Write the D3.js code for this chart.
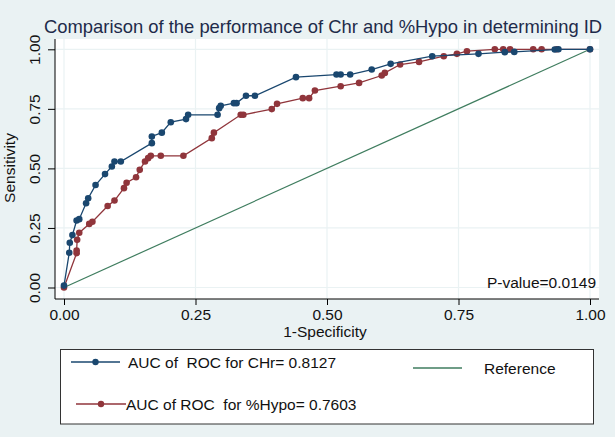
<!DOCTYPE html>
<html>
<head>
<meta charset="utf-8">
<script src="https://cdn.jsdelivr.net/npm/d3@7/dist/d3.min.js"></script>
<style>
  html, body { margin: 0; padding: 0; background: #eaf2f3; }
  svg text { font-family: "Liberation Sans", Arial, sans-serif; white-space: pre; }
</style>
</head>
<body>
<svg id="chart" width="615" height="437"></svg>
<script>
// ---- data ----
const titleText = "Comparison of the performance of Chr and %Hypo in determining ID";
const xTicks = [0, 0.25, 0.5, 0.75, 1];
const yTicks = [0, 0.25, 0.5, 0.75, 1];
const chrFpr = [0, 0.010, 0.011, 0.016, 0.024, 0.029, 0.042, 0.046, 0.060, 0.078, 0.091, 0.096, 0.108, 0.167, 0.167, 0.186, 0.203, 0.232, 0.236, 0.292, 0.295, 0.298, 0.323, 0.328, 0.346, 0.363, 0.441, 0.518, 0.526, 0.544, 0.585, 0.621, 0.700, 0.788, 0.838, 0.856, 0.933, 0.940, 1.0];
const chrTpr = [0.008, 0.146, 0.188, 0.220, 0.281, 0.287, 0.354, 0.375, 0.430, 0.476, 0.508, 0.529, 0.529, 0.606, 0.634, 0.650, 0.694, 0.707, 0.725, 0.725, 0.753, 0.763, 0.774, 0.774, 0.805, 0.805, 0.883, 0.894, 0.894, 0.894, 0.915, 0.939, 0.971, 0.981, 0.988, 0.989, 0.999, 1.0, 1.0];
const hypoFpr = [0, 0.024, 0.024, 0.025, 0.029, 0.048, 0.054, 0.083, 0.096, 0.114, 0.119, 0.137, 0.144, 0.154, 0.160, 0.165, 0.184, 0.227, 0.281, 0.285, 0.336, 0.341, 0.395, 0.405, 0.454, 0.466, 0.477, 0.526, 0.561, 0.604, 0.610, 0.639, 0.675, 0.722, 0.747, 0.766, 0.819, 0.835, 0.848, 0.892, 0.908, 0.937, 1.0];
const hypoTpr = [0, 0.144, 0.155, 0.200, 0.230, 0.267, 0.276, 0.342, 0.365, 0.417, 0.440, 0.463, 0.494, 0.529, 0.543, 0.553, 0.553, 0.553, 0.627, 0.650, 0.725, 0.725, 0.749, 0.771, 0.795, 0.795, 0.827, 0.845, 0.859, 0.890, 0.901, 0.936, 0.947, 0.971, 0.981, 0.992, 1, 1, 1, 1, 1, 1, 1];
const refX = [0, 1];
const refY = [0, 1];
const legendLabels = ["AUC of  ROC for CHr= 0.8127", "AUC of ROC  for %Hypo= 0.7603", "Reference"];
const pValueText = "P-value=0.0149";
const xTitle = "1-Specificity";
const yTitle = "Sensitivity";

// ---- styles ----
const navy = "#1a476f", maroon = "#90353b", green = "#3f7d5f";
const bg = "#eaf2f3";
const fs = 15.5;

const svg = d3.select("#chart");
svg.append("rect").attr("width", 615).attr("height", 437).attr("fill", bg);

const plot = {left: 55, right: 599, top: 39, bottom: 299};
const x = d3.scaleLinear().domain([0, 1]).range([64, 590]);
const y = d3.scaleLinear().domain([0, 1]).range([287.5, 49.3]);

svg.append("rect").attr("x", plot.left).attr("y", plot.top)
  .attr("width", plot.right - plot.left).attr("height", plot.bottom - plot.top)
  .attr("fill", "#ffffff");

// grid
svg.append("g").selectAll("line").data(yTicks).join("line")
  .attr("x1", plot.left).attr("x2", plot.right)
  .attr("y1", d => y(d)).attr("y2", d => y(d))
  .attr("stroke", bg).attr("stroke-width", 1.2);
svg.append("g").selectAll("line").data(xTicks).join("line")
  .attr("y1", plot.top).attr("y2", plot.bottom)
  .attr("x1", d => x(d)).attr("x2", d => x(d))
  .attr("stroke", bg).attr("stroke-width", 1.2);

// axes
const xAxis = d3.axisBottom(x).tickValues(xTicks).tickFormat(d3.format(".2f")).tickSize(6).tickSizeOuter(0).tickPadding(4);
const gx = svg.append("g").attr("transform", `translate(0,${plot.bottom})`).call(xAxis);
gx.select(".domain").remove();
gx.selectAll("line").attr("stroke", "#000");
gx.selectAll("text").attr("font-size", fs).attr("fill", "#111").attr("font-family", "Liberation Sans, Arial, sans-serif");

const yAxis = d3.axisLeft(y).tickValues(yTicks).tickFormat(d3.format(".2f")).tickSize(7).tickSizeOuter(0);
const gy = svg.append("g").attr("transform", `translate(${plot.left},0)`).call(yAxis);
gy.select(".domain").remove();
gy.selectAll("line").attr("stroke", "#000");
gy.selectAll("text")
  .attr("font-size", fs).attr("fill", "#111").attr("font-family", "Liberation Sans, Arial, sans-serif")
  .attr("text-anchor", "middle").attr("dy", null)
  .attr("x", 0).attr("y", 0)
  .attr("transform", d => `translate(${-15},0) rotate(-90)`);

// axis lines
svg.append("line").attr("x1", plot.left).attr("x2", plot.left).attr("y1", plot.top).attr("y2", plot.bottom).attr("stroke", "#000");
svg.append("line").attr("x1", plot.left).attr("x2", plot.right).attr("y1", plot.bottom).attr("y2", plot.bottom).attr("stroke", "#000");

// titles
svg.append("text").attr("x", 44).attr("y", 32.5).attr("font-size", 18.4).attr("fill", "#1e2b4a").text(titleText);
svg.append("text").attr("x", 325).attr("y", 337).attr("text-anchor", "middle").attr("font-size", fs).attr("fill", "#111").text(xTitle);
svg.append("text").attr("transform", "translate(15,168) rotate(-90)").attr("text-anchor", "middle").attr("font-size", fs).attr("fill", "#111").text(yTitle);

// reference line
const line = d3.line().x(d => x(d[0])).y(d => y(d[1]));
svg.append("path").datum(d3.zip(refX, refY)).attr("d", line).attr("fill", "none").attr("stroke", green).attr("stroke-width", 1.2);

function series(fx, ty, color) {
  const pts = d3.zip(fx, ty);
  svg.append("path").datum(pts).attr("d", line).attr("fill", "none").attr("stroke", color).attr("stroke-width", 1.3);
  svg.append("g").selectAll("circle").data(pts).join("circle")
    .attr("cx", d => x(d[0])).attr("cy", d => y(d[1])).attr("r", 3.3).attr("fill", color);
}
series(hypoFpr, hypoTpr, maroon);
series(chrFpr, chrTpr, navy);

// p-value
svg.append("text").attr("x", 596).attr("y", 288).attr("text-anchor", "end").attr("font-size", fs).attr("fill", "#111").text(pValueText);

// legend
svg.append("rect").attr("x", 60.5).attr("y", 349.5).attr("width", 533).attr("height", 74.5)
  .attr("fill", "#fff").attr("stroke", "#333").attr("stroke-width", 1);
const leg = [
  {x1: 71, x2: 120, y: 362, color: navy, dot: true, tx: 128, label: legendLabels[0]},
  {x1: 76, x2: 126, y: 404, color: maroon, dot: true, tx: 126, label: legendLabels[1]},
  {x1: 413, x2: 462, y: 368, color: green, dot: false, tx: 484, label: legendLabels[2]}
];
leg.forEach(l => {
  svg.append("line").attr("x1", l.x1).attr("x2", l.x2).attr("y1", l.y).attr("y2", l.y).attr("stroke", l.color).attr("stroke-width", 1.3);
  if (l.dot) svg.append("circle").attr("cx", (l.x1 + l.x2) / 2).attr("cy", l.y).attr("r", 3.2).attr("fill", l.color);
  svg.append("text").attr("x", l.tx).attr("y", l.y + 5.5).attr("font-size", fs).attr("fill", "#111").text(l.label);
});
</script>
</body>
</html>
